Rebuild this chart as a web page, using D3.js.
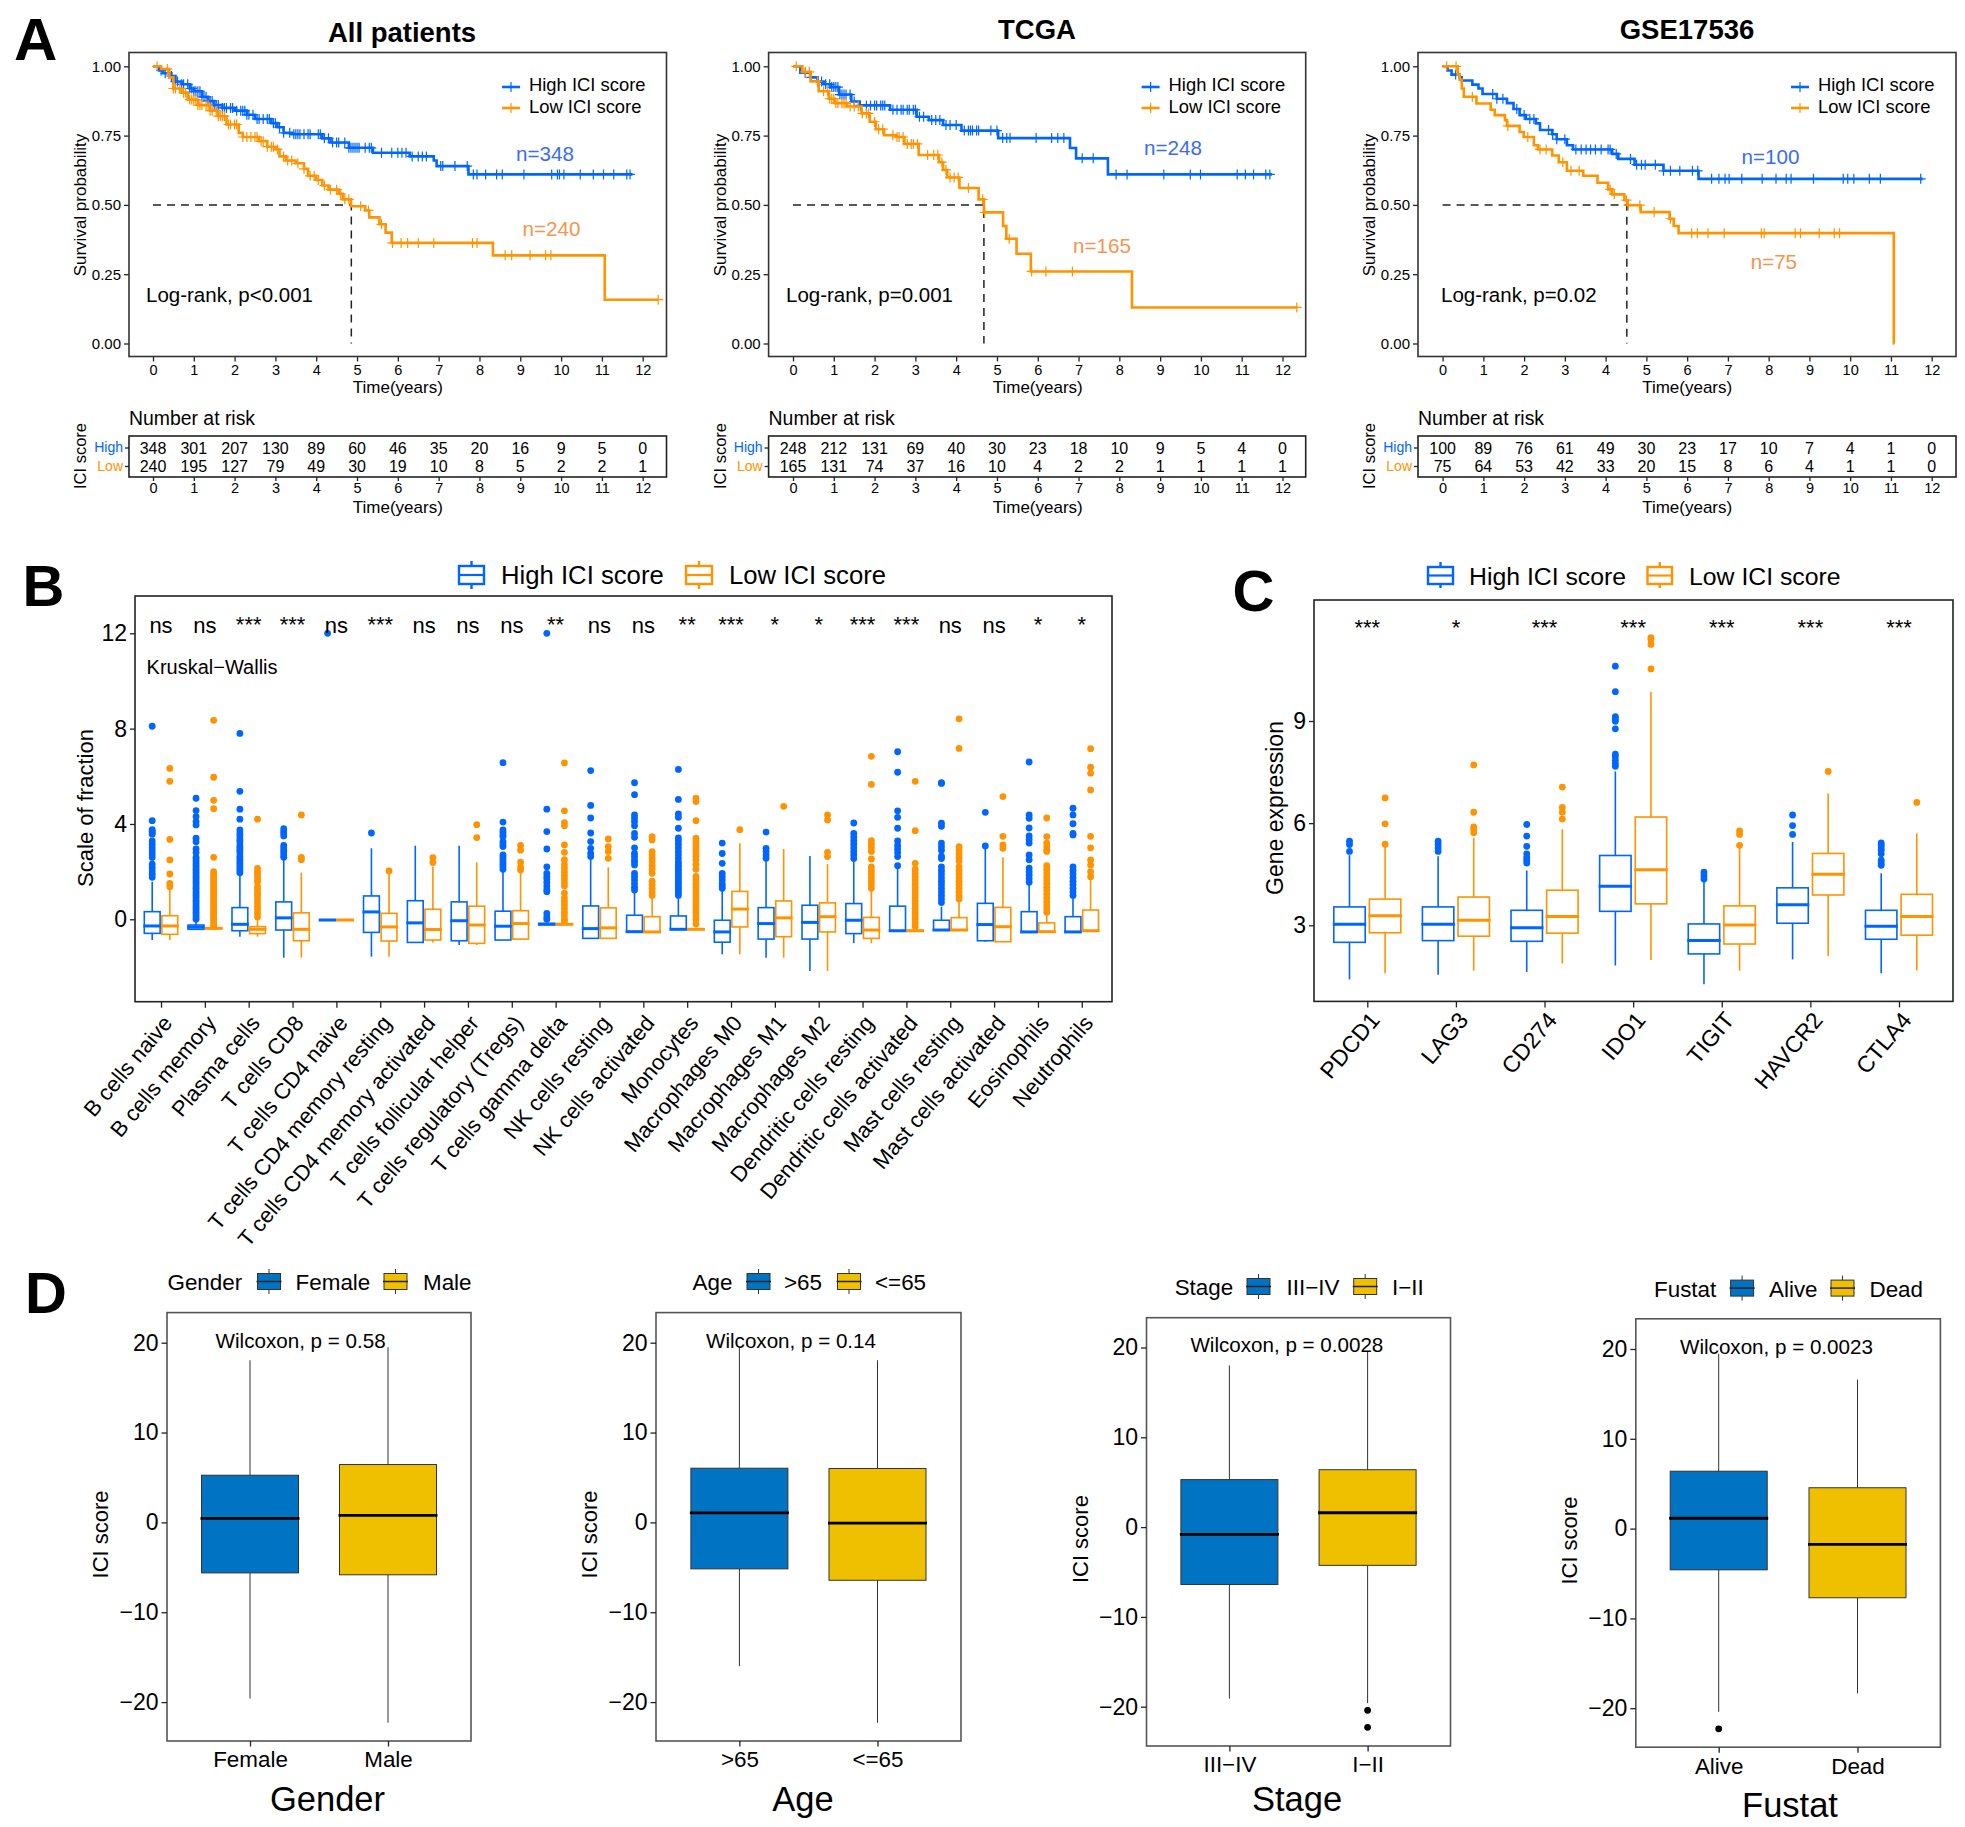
<!DOCTYPE html>
<html>
<head>
<meta charset="utf-8">
<title>ICI score panels</title>
<script src="https://d3js.org/d3.v7.min.js"></script>
<style>
  body { margin: 0; background: #fff; }
  text { font-family: "Liberation Sans", Arial, sans-serif; fill: #000; }
</style>
</head>
<body>
<script>
// ---------- panel A data ----------
var years = [0,1,2,3,4,5,6,7,8,9,10,11,12];

var allHighTime = [0,0.15,0.25,0.45,0.55,0.7,0.9,1.0,1.2,1.35,1.5,1.7,2.0,2.3,2.5,2.9,3.05,3.2,3.4,4.15,4.35,4.8,5.39,6.29,6.88,6.95,7.73,11.75];
var allHighSurv = [1,0.985,0.975,0.965,0.945,0.935,0.92,0.91,0.89,0.875,0.86,0.85,0.84,0.825,0.81,0.795,0.78,0.76,0.755,0.74,0.725,0.706,0.688,0.675,0.66,0.64,0.61,0.61];
var allHighCensor = [0.2,0.3,0.45,0.55,0.6,0.7,0.75,0.85,0.9,0.95,1.0,1.05,1.1,1.15,1.2,1.25,1.3,1.35,1.4,1.45,1.5,1.55,1.6,1.7,1.75,1.8,1.9,1.95,2.05,2.15,2.2,2.25,2.3,2.35,2.45,2.55,2.6,2.7,2.8,2.85,2.95,3.0,3.1,3.2,3.35,3.45,3.5,3.55,3.6,3.7,3.8,3.85,4.05,4.1,4.2,4.3,4.4,4.5,4.55,4.7,4.8,4.85,4.9,4.95,5.0,5.05,5.2,5.3,5.35,5.6,5.85,6.0,6.1,6.2,6.35,6.5,6.6,6.7,7.05,7.1,7.4,7.7,7.85,7.94,8.15,8.42,8.56,9.09,9.77,9.91,9.96,10.07,10.47,10.79,11.04,11.29,11.61,11.69];
var allLowTime = [0,0.2,0.4,0.5,0.7,0.85,1.1,1.4,1.6,1.8,2.1,2.2,2.6,2.8,3.0,3.1,3.25,3.5,3.7,3.8,4.0,4.15,4.3,4.55,4.65,4.85,5.2,5.3,5.55,5.7,5.85,8.33,11.07,12.38];
var allLowSurv = [1,0.99,0.96,0.92,0.905,0.88,0.86,0.84,0.82,0.79,0.76,0.745,0.73,0.71,0.7,0.675,0.66,0.65,0.63,0.605,0.59,0.57,0.555,0.54,0.52,0.495,0.48,0.455,0.43,0.4,0.363,0.318,0.158,0.158];
var allLowCensor = [0.1,0.35,0.5,0.55,0.65,0.75,0.8,0.9,0.95,1.0,1.05,1.1,1.15,1.2,1.3,1.35,1.4,1.45,1.55,1.6,1.65,1.7,1.75,1.85,1.9,2.0,2.05,2.2,2.3,2.4,2.5,2.55,2.65,2.7,2.8,2.9,2.95,3.05,3.2,3.3,3.4,3.55,3.7,3.85,3.95,4.05,4.2,4.35,4.5,4.6,4.7,4.8,5.09,5.28,5.6,5.87,6.08,6.24,6.5,6.88,7.83,7.94,8.63,8.79,9.24,9.62,9.75,12.38];
var allHighRisk = [348,301,207,130,89,60,46,35,20,16,9,5,0];
var allLowRisk = [240,195,127,79,49,30,19,10,8,5,2,2,1];

var tcgaHighTime = [0,0.18,0.43,0.6,0.75,0.93,1.13,1.43,1.63,2.38,3.03,3.33,3.68,4.13,5.03,6.79,6.94,7.72,11.74];
var tcgaHighSurv = [1,0.977,0.96,0.945,0.935,0.925,0.898,0.873,0.859,0.843,0.818,0.806,0.788,0.768,0.741,0.705,0.668,0.61,0.61];
var tcgaHighCensor = [0.3,0.45,0.6,0.7,0.8,0.9,0.95,1.0,1.05,1.1,1.15,1.2,1.25,1.3,1.4,1.5,1.65,1.8,1.9,2.0,2.05,2.15,2.2,2.25,2.45,2.55,2.65,2.7,2.8,2.85,2.95,3.0,3.1,3.2,3.4,3.5,3.6,3.75,3.85,4.0,4.2,4.3,4.35,4.4,4.5,4.55,4.85,5.0,5.14,5.24,5.32,5.96,6.34,6.49,6.64,7.09,7.36,7.92,8.19,9.09,9.74,9.99,10.89,11.09,11.29,11.59,11.69];
var tcgaLowTime = [0,0.23,0.43,0.63,0.88,1.03,1.33,1.68,1.88,2.03,2.23,2.53,2.73,3.08,3.2,3.58,3.68,3.78,4.08,4.55,4.68,5.15,5.23,5.48,5.83,8.31,12.35];
var tcgaLowSurv = [1,0.98,0.946,0.91,0.883,0.867,0.855,0.83,0.8,0.773,0.751,0.745,0.72,0.68,0.68,0.654,0.626,0.599,0.561,0.52,0.473,0.424,0.378,0.324,0.26,0.13,0.13];
var tcgaLowCensor = [0.08,0.3,0.4,0.6,0.75,0.85,0.9,0.95,1.0,1.05,1.1,1.2,1.25,1.3,1.4,1.5,1.6,1.7,1.8,1.85,2.0,2.1,2.2,2.45,2.55,2.6,2.7,2.8,2.9,2.95,3.05,3.3,3.45,3.55,3.65,3.75,3.85,3.95,4.05,4.3,4.65,4.7,5.3,5.85,6.2,6.85,12.35];
var tcgaHighRisk = [248,212,131,69,40,30,23,18,10,9,5,4,0];
var tcgaLowRisk = [165,131,74,37,16,10,4,2,2,1,1,1,1];

var gseHighTime = [0,0.12,0.22,0.42,0.47,0.73,0.88,0.98,1.33,1.58,1.74,1.89,2.04,2.29,2.39,2.69,2.8,3.05,3.2,4.16,4.31,4.71,5.42,6.28,11.78];
var gseHighSurv = [1,0.985,0.97,0.96,0.949,0.934,0.92,0.9,0.883,0.867,0.846,0.824,0.81,0.794,0.77,0.755,0.737,0.715,0.7,0.684,0.666,0.645,0.623,0.594,0.594];
var gseHighCensor = [0.32,1.23,1.33,1.48,1.82,2.0,2.14,2.24,2.6,2.7,2.8,3.0,3.27,3.4,3.52,3.63,3.75,3.89,4.06,4.11,4.26,4.61,4.76,4.88,4.97,5.22,5.42,5.59,5.82,6.13,6.26,6.6,6.78,6.93,7.03,7.34,7.84,8.18,8.43,8.55,9.1,9.83,9.94,10.09,10.47,10.74,11.73];
var gseLowTime = [0,0.37,0.42,0.47,0.52,0.83,1.18,1.28,1.53,1.58,1.89,1.99,2.24,2.34,2.69,2.85,3.05,3.45,3.8,4.06,4.16,4.46,4.54,4.86,5.57,5.67,5.79,11.07,11.08];
var gseLowSurv = [1,0.97,0.952,0.92,0.89,0.866,0.843,0.824,0.806,0.785,0.763,0.745,0.715,0.7,0.678,0.654,0.623,0.605,0.58,0.556,0.538,0.517,0.499,0.474,0.45,0.424,0.398,0,0];
var gseLowCensor = [0.1,0.33,0.73,1.6,2.09,2.39,2.54,2.95,3.15,3.35,4.11,4.21,4.51,4.56,4.84,5.19,5.59,6.11,6.25,6.51,6.91,7.82,7.89,8.65,8.78,9.24,9.61,9.74];
var gseHighRisk = [100,89,76,61,49,30,23,17,10,7,4,1,0];
var gseLowRisk = [75,64,53,42,33,20,15,8,6,4,1,1,0];

// ---------- panel B data ----------
var cellTypes = ["B cells naive","B cells memory","Plasma cells","T cells CD8","T cells CD4 naive","T cells CD4 memory resting","T cells CD4 memory activated","T cells follicular helper","T cells regulatory (Tregs)","T cells gamma delta","NK cells resting","NK cells activated","Monocytes","Macrophages M0","Macrophages M1","Macrophages M2","Dendritic cells resting","Dendritic cells activated","Mast cells resting","Mast cells activated","Eosinophils","Neutrophils"];
var cellSig = ["ns","ns","***","***","ns","***","ns","ns","ns","**","ns","ns","**","***","*","*","***","***","ns","ns","*","*"];

// q1, median, q3, whisker low, whisker high
var cellHighStats = [[-.59,-.28,.32,-.87,1.58],[-.42,-.33,-.24,-.45,0],[-.48,-.21,.49,-.73,1.86],[-.45,.06,.73,-1.61,2.49],[-.03,-.03,-.03,-.03,-.03],[-.55,.31,.98,-1.57,2.98],[-.97,-.15,.78,-.97,3.09],[-.9,-.06,.73,-1.08,3.09],[-.87,-.29,.34,-.87,2.35],[-.22,-.21,-.17,-.22,-.15],[-.8,-.39,.56,-.8,2.5],[-.52,-.52,.17,-.52,1.16],[-.42,-.42,.14,-.42,.88],[-.96,-.53,-.04,-1.47,1.23],[-.83,-.18,.49,-1.61,2.49],[-.83,-.13,.59,-2.17,2.66],[-.6,-.04,.66,-1,2.42],[-.48,-.48,.55,-.48,2.14],[-.45,-.45,-.04,-.45,.53],[-.9,-.22,.67,-.94,2.98],[-.53,-.53,.32,-.53,1.44],[-.53,-.53,.11,-.53,.95]];
var cellLowStats = [[-.63,-.28,.15,-.87,1.23],[-.38,-.38,-.36,-.4,-.3],[-.6,-.42,-.31,-.73,0],[-.9,-.42,.27,-1.61,1.96],[-.03,-.03,-.03,-.03,-.03],[-.91,-.32,.25,-1.57,1.93],[-.87,-.43,.42,-.97,2.2],[-1.01,-.24,.55,-1.08,2.39],[-.83,-.18,.36,-.87,2],[-.21,-.21,-.19,-.22,-.15],[-.8,-.36,.48,-.8,2.18],[-.53,-.53,.11,-.53,.95],[-.42,-.42,-.41,-.42,-.4],[-.32,.43,1.17,-1.47,3.19],[-.73,.06,.77,-1.61,2.95],[-.53,.11,.69,-2.17,2.31],[-.8,-.45,.08,-1,1.3],[-.48,-.48,-.47,-.48,-.45],[-.45,-.45,.07,-.45,.74],[-.94,-.31,.5,-.94,2.6],[-.53,-.52,-.15,-.53,.25],[-.48,-.48,.39,-.48,1.65]];
var cellHighOut = [
  [8.1,4.14,3.76,3.7,3.63,3.57,3.29,3.15,3,2.87,2.73,2.59,2.31,2.17,2.03,1.89,1.76],
  [5.08,4.56,4.31,4.1,3.96,3.4,3.25,2.95,2.8,2.6,2.5,2.4,2.3,2.2,2.1,2,1.9,1.8,1.7,1.6,1.5,1.4,1.3,1.2,1.1,1,.9,.8,.7,.6,.5,.4,.3,.2,.1,0],
  [7.8,5.37,4.62,4.2,3.75,3.6,3.5,3.35,3.25,3.1,3,2.9,2.8,2.65,2.55,2.45,2.35,2.25,2.15,2.05,1.95],
  [3.8,3.7,3.6,3.5,3.1,3,2.9,2.8,2.7,2.6],
  [12],[3.62],[],[],
  [6.57,4.08,3.75,3.65,3.55,3.47,3.26,3.15,3.05,2.7,2.6,2.5,2.4,2.3,2.2,2.1],
  [12,4.62,3.68,2.95,2.2,1.93,1.8,1.7,1.55,1.4,1.25,1.16,.25,.1,0],
  [6.24,4.78,4.25,3.62,3.26,2.98,2.77,2.63],
  [5.73,5.23,4.38,4.24,4.1,3.93,3.6,3.44,3,2.77,2.65,2.5,2.4,2.28,1.93,1.8,1.65,1.5,1.35,1.23],
  [6.29,5.03,4.42,4.28,3.82,3.42,3.3,3.15,3,2.85,2.7,2.55,2.4,2.3,2.2,2.1,2,1.9,1.8,1.7,1.6,1.5,1.4,1.3,1.2,1.1,1],
  [3.2,2.76,2.35,1.93,1.8,1.65,1.5,1.4,1.3],
  [3.66,2.98,2.84,2.7,2.56],
  [],
  [4.04,3.6,3.45,3.3,3.15,3,2.85,2.7,2.55],
  [7.03,6.17,4.55,4.28,3.82,3.29,3.1,2.95,2.8,2.63,2.25],
  [5.73,5.7,4.03,3.9,3.2,3.05,2.9,2.65,2.55,2.2,2.05,1.9,1.75,1.6,1.45,1.3,1.15,1,.85,.7],
  [4.49,3.08],
  [6.6,4.38,4.24,3.83,3.5,3.35,3.2,2.7,2.5,2.15,2,1.85,1.7,1.55],
  [4.66,4.38,4.01,3.6,3.54,2.2,2.05,1.9,1.75,1.6,1.45,1.3,1.15,1]
];
var cellLowOut = [
  [6.33,5.79,3.35,2.49,1.9,1.51,1.37],
  [8.35,5.96,4.99,4.64,2.6,2,1.9,1.8,1.7,1.6,1.5,1.4,1.3,1.2,1.1,1,.9,.8,.7,.6,.5,.4,.3,.2,.1,0,-.1,-.2,-.3],
  [4.2,2.14,2,1.9,1.8,1.65,1.58,1.37,1.25,1.1,1,.85,.7,.55,.4,.25,.1],
  [4.38,2.6,2.5],
  [],[2.03],[2.59,2.38],[3.97,3.43],
  [3.1,2.9,2.4,2.2,2.07],
  [6.56,4.55,4.06,3.92,3.12,2.81,2.5,2.3,2.15,2,1.85,1.7,1.55,1.4,1.1,.9,.75,.6,.45,.3,.15,0,-.1],
  [3.37,3.05,2.84,2.56],
  [3.47,3.33,2.84,2.7,2.55,2.42,2.25,2.1,1.93,1.6,1.45,1.3,1.15,1],
  [5.08,4.94,4.14,3.4,3.25,3.1,2.95,2.8,2.65,2.5,2.3,2.1,1.8,1.65,1.5,1.35,1.2,1.05,.9,.75,.6,.45,.3,.15,0,-.2],
  [3.76],[4.74],
  [4.38,4.17,2.81,2.63],
  [6.84,5.66,3.3,3.15,3,2.85,2.53,2.2,2.05,1.9,1.75,1.6,1.45,1.3],
  [5.79,3.72,2.35,2.1,1.95,1.8,1.65,1.5,1.35,1.2,1.05,.9,.75,.6,.45,.3,.15,0,-.15,-.3],
  [8.41,7.17,3.05,2.9,2.75,2.6,2.45,2.2,2.05,1.9,1.75,1.6,1.45,1.3,1.15,1,.85],
  [5.15,3.48,3.12,2.98],
  [4.25,3.47,3.2,3.05,2.9,2.85,2.25,2.1,1.95,1.8,1.65,1.5,1.35,1.2,1.05,.9,.75,.6,.45,.3],
  [7.16,6.38,6.13,5.43,3.48,3,2.49,2.28,2,1.79]
];

// ---------- panel C data ----------
var genes = ["PDCD1","LAG3","CD274","IDO1","TIGIT","HAVCR2","CTLA4"];
var geneSig = ["***","*","***","***","***","***","***"];
var geneHighStats = [[2.5,3.03,3.54,1.41,5.06],[2.55,3.03,3.54,1.55,5.03],[2.53,2.93,3.44,1.63,4.61],[3.41,4.15,5.05,1.82,7.52],[2.16,2.55,3.04,1.27,4.31],[3.06,3.6,4.1,2,5.45],[2.59,2.97,3.44,1.59,4.53]];
var geneLowStats = [[2.78,3.28,3.77,1.59,5.32],[2.68,3.15,3.83,1.67,5.57],[2.77,3.26,4.03,1.88,5.82],[3.63,4.63,6.18,1.98,9.86],[2.45,3.01,3.57,1.67,5.27],[3.89,4.5,5.11,2.1,6.87],[2.71,3.26,3.91,1.67,5.7]];
var geneHighOut = [[5.47,5.37,5.17],[5.47,5.37,5.27,5.17],[5.96,5.62,5.32,5.1,4.99,4.91,4.83],[10.61,9.86,9.13,9.06,8.99,8.77,8.03,7.95,7.85,7.75,7.67],[4.56,4.46,4.36],[6.24,5.93,5.67],[5.42,5.35,5.27,5.2,5.1,4.91,4.83,4.76]];
var geneLowOut = [[6.74,5.98,5.38],[7.71,6.32,5.89,5.82,5.72],[7.06,6.46,6.32,6.12],[11.45,11.39,11.25,10.53],[5.77,5.67,5.35],[7.52],[6.61]];

// ---------- panel D data ----------
var genderGroups = ["Female","Male"];
var genderStats = [[-5.62,.45,5.25,-19.6,18.05],[-5.83,.78,6.44,-22.3,19.5]];
var genderOut = [[],[]];
var ageGroups = [">65","<=65"];
var ageStats = [[-5.17,1.07,6.03,-16,19.5],[-6.44,-.08,6,-22.3,18.05]];
var ageOut = [[],[]];
var stageGroups = ["III\u2212IV","I\u2212II"];
var stageStats = [[-6.39,-.82,5.29,-19.1,18],[-4.26,1.6,6.39,-19.6,19.5]];
var stageOut = [[],[-20.4,-22.3]];
var fustatGroups = ["Alive","Dead"];
var fustatStats = [[-4.59,1.15,6.39,-20.4,19.47],[-7.7,-1.76,4.55,-18.36,16.6]];
var fustatOut = [[-22.3],[]];

var blue = "#0066ff", orange = "#ff9300";
var jcoBlue = "#0073C2", jcoYellow = "#EFC000";

var svg = d3.select("body").append("svg")
    .attr("width", 1965)
    .attr("height", 1827);

function label(x, y, str, size, opts) {
    opts = opts || {};
    var t = svg.append("text")
        .attr("font-size", size)
        .attr("text-anchor", opts.anchor || "start")
        .text(str);
    if (opts.rotate) {
        t.attr("transform", "translate(" + x + "," + y + ") rotate(" + opts.rotate + ")");
    } else {
        t.attr("x", x).attr("y", y);
    }
    if (opts.weight) t.attr("font-weight", opts.weight);
    if (opts.color) t.style("fill", opts.color);
    return t;
}

function frame(x0, y0, x1, y1, color) {
    svg.append("rect")
        .attr("x", x0).attr("y", y0)
        .attr("width", x1 - x0).attr("height", y1 - y0)
        .attr("fill", "none")
        .attr("stroke", color || "#222")
        .attr("stroke-width", 1.6);
}

// d3 axis with the domain line dropped, the frame is drawn on its own
function drawAxis(axis, tx, ty, size) {
    var g = svg.append("g")
        .attr("transform", "translate(" + tx + "," + ty + ")")
        .call(axis);
    g.select(".domain").remove();
    g.selectAll("line").attr("stroke", "#222").attr("stroke-width", 1.3);
    g.selectAll("text").attr("font-size", size).attr("font-family", null);
    return g;
}

// ---------- survival panels ----------
function stepValue(times, surv, t) {
    var i = d3.bisectRight(times, t) - 1;
    return surv[Math.max(i, 0)];
}

function survivalPanel(p) {
    var top = 52.5, bottom = 356.5;
    var x = d3.scaleLinear().domain([0, 12]).range([p.x0, p.x12]);
    var y = d3.scaleLinear().domain([0, 1]).range([343.5, 66.3]);

    label(p.titleX, p.titleY, p.title, 27.5, {anchor: "middle", weight: "bold"});

    drawAxis(d3.axisBottom(x).tickValues(years).tickFormat(d3.format("d")).tickSize(5).tickPadding(3), 0, bottom, 14.5);
    drawAxis(d3.axisLeft(y).tickValues([0, .25, .5, .75, 1]).tickFormat(d3.format(".2f")).tickSize(5).tickPadding(3), p.left, 0, 15);

    // median guide
    svg.append("path")
        .attr("d", d3.line()([[x(0), y(.5)], [x(p.median), y(.5)], [x(p.median), y(0)]]))
        .attr("fill", "none")
        .attr("stroke", "#222")
        .attr("stroke-width", 1.5)
        .attr("stroke-dasharray", "8,6");

    var line = d3.line()
        .x(function(d) { return x(d[0]); })
        .y(function(d) { return y(d[1]); })
        .curve(d3.curveStepAfter);

    p.curves.forEach(function(c) {
        svg.append("path")
            .attr("d", line(d3.zip(c.time, c.surv)))
            .attr("fill", "none")
            .attr("stroke", c.color)
            .attr("stroke-width", 2.6);
        svg.append("g").selectAll("path")
            .data(c.censor)
            .enter()
            .append("path")
            .attr("d", "M-5,0H5M0,-5V5")
            .attr("transform", function(d) {
                return "translate(" + x(d) + "," + y(stepValue(c.time, c.surv, d)) + ")";
            })
            .attr("stroke", c.color)
            .attr("stroke-width", 1.2);
    });

    frame(p.left, top, p.right, bottom, "#333");

    // legend
    [[87, blue, "High ICI score", 91], [108, orange, "Low ICI score", 113]].forEach(function(k) {
        var kx = p.left + 373;
        svg.append("line").attr("x1", kx).attr("x2", kx + 18).attr("y1", k[0]).attr("y2", k[0])
            .attr("stroke", k[1]).attr("stroke-width", 2.6);
        svg.append("line").attr("x1", kx + 9).attr("x2", kx + 9).attr("y1", k[0] - 5).attr("y2", k[0] + 5)
            .attr("stroke", k[1]).attr("stroke-width", 1.2);
        label(p.left + 400, k[3], k[2], 18.4);
    });

    label(p.nHigh[0], p.nHigh[1], p.nHigh[2], 20.6, {color: "#3a6cf4"});
    label(p.nLow[0], p.nLow[1], p.nLow[2], 20.6, {color: "#f5954f"});
    label(p.logX, 302, p.logText, 20.5);

    label(p.left - 43, 205, "Survival probability", 17, {anchor: "middle", rotate: -90});
    label((p.x0 + p.x12) / 2, 393, "Time(years)", 17, {anchor: "middle"});

    // risk table
    var rTop = 436, rBottom = 477;
    label(p.left, 425, "Number at risk", 19.4);
    frame(p.left, rTop, p.right, rBottom, "#222");
    years.forEach(function(yr, i) {
        label(x(yr), 453.5, p.highRisk[i], 16, {anchor: "middle"});
        label(x(yr), 472, p.lowRisk[i], 16, {anchor: "middle"});
    });
    drawAxis(d3.axisBottom(x).tickValues(years).tickFormat(d3.format("d")).tickSize(4).tickPadding(2), 0, rBottom, 14.5);
    var riskY = d3.scalePoint().domain(["High", "Low"]).range([447.5, 466]);
    var riskAxis = drawAxis(d3.axisLeft(riskY).tickSize(4).tickPadding(2), p.left, 0, 14);
    riskAxis.selectAll("text").style("fill", function(d) { return d == "High" ? blue : orange; });
    label((p.x0 + p.x12) / 2, 513, "Time(years)", 17, {anchor: "middle"});
    label(p.left - 43, 456, "ICI score", 16.5, {anchor: "middle", rotate: -90});
}

survivalPanel({
    title: "All patients", titleX: 402, titleY: 42,
    left: 129, right: 666.5, x0: 153, x12: 642.7, median: 4.86,
    curves: [
        {time: allHighTime, surv: allHighSurv, censor: allHighCensor, color: blue},
        {time: allLowTime, surv: allLowSurv, censor: allLowCensor, color: orange}
    ],
    highRisk: allHighRisk, lowRisk: allLowRisk,
    nHigh: [516, 160.6, "n=348"], nLow: [522.5, 236, "n=240"],
    logX: 146, logText: "Log-rank, p<0.001"
});
survivalPanel({
    title: "TCGA", titleX: 1037, titleY: 39,
    left: 768.6, right: 1305.7, x0: 793, x12: 1282.5, median: 4.68,
    curves: [
        {time: tcgaHighTime, surv: tcgaHighSurv, censor: tcgaHighCensor, color: blue},
        {time: tcgaLowTime, surv: tcgaLowSurv, censor: tcgaLowCensor, color: orange}
    ],
    highRisk: tcgaHighRisk, lowRisk: tcgaLowRisk,
    nHigh: [1144, 155, "n=248"], nLow: [1073, 253, "n=165"],
    logX: 786, logText: "Log-rank, p=0.001"
});
survivalPanel({
    title: "GSE17536", titleX: 1687, titleY: 39,
    left: 1418, right: 1956, x0: 1442.6, x12: 1931.7, median: 4.52,
    curves: [
        {time: gseHighTime, surv: gseHighSurv, censor: gseHighCensor, color: blue},
        {time: gseLowTime, surv: gseLowSurv, censor: gseLowCensor, color: orange}
    ],
    highRisk: gseHighRisk, lowRisk: gseLowRisk,
    nHigh: [1741.6, 164, "n=100"], nLow: [1750.7, 269, "n=75"],
    logX: 1441, logText: "Log-rank, p=0.02"
});

// ---------- one box, whiskers, median and outliers ----------
function drawBox(cx, w, s, out, y, o) {
    var g = svg.append("g");
    g.append("line").attr("x1", cx).attr("x2", cx).attr("y1", y(s[2])).attr("y2", y(s[4]))
        .attr("stroke", o.line).attr("stroke-width", o.lw);
    g.append("line").attr("x1", cx).attr("x2", cx).attr("y1", y(s[0])).attr("y2", y(s[3]))
        .attr("stroke", o.line).attr("stroke-width", o.lw);
    g.append("rect")
        .attr("x", cx - w / 2).attr("width", w)
        .attr("y", y(s[2])).attr("height", y(s[0]) - y(s[2]))
        .attr("fill", o.fill).attr("stroke", o.edge).attr("stroke-width", o.boxLw);
    g.append("line").attr("x1", cx - w / 2 - 1).attr("x2", cx + w / 2 + 1).attr("y1", y(s[1])).attr("y2", y(s[1]))
        .attr("stroke", o.median).attr("stroke-width", o.medLw);
    g.selectAll("circle")
        .data(out)
        .enter()
        .append("circle")
        .attr("cx", cx)
        .attr("cy", function(d) { return y(d); })
        .attr("r", o.r)
        .attr("fill", o.dot);
}

function outlineStyle(color, r) {
    return {line: color, edge: color, fill: "none", median: color, dot: color, lw: 1.6, boxLw: 1.6, medLw: 3, r: r};
}

function legendKey(x0, x1, yTop, yBottom, wTop, wBottom, o) {
    var mid = (x0 + x1) / 2;
    drawBox(mid, x1 - x0, [0, .5, 1, 0, 1], [],
        function(v) { return v == 0 ? yBottom : (v == 1 ? yTop : (yTop + yBottom) / 2); }, o);
    svg.append("line").attr("x1", mid).attr("x2", mid).attr("y1", wTop).attr("y2", yTop)
        .attr("stroke", o.edge).attr("stroke-width", o.lw);
    svg.append("line").attr("x1", mid).attr("x2", mid).attr("y1", yBottom).attr("y2", wBottom)
        .attr("stroke", o.edge).attr("stroke-width", o.lw);
}

// ---------- panel B ----------
(function() {
    var left = 135, right = 1112, top = 596, bottom = 1001.7;
    var x = d3.scalePoint().domain(cellTypes).range([161, 1081.8]);
    var y = d3.scaleLinear().domain([0, 12]).range([919.3, 633.3]);
    var hi = outlineStyle(blue, 3.4), lo = outlineStyle(orange, 3.4);

    cellTypes.forEach(function(c, i) {
        drawBox(x(c) - 8.8, 15.8, cellHighStats[i], cellHighOut[i], y, hi);
        drawBox(x(c) + 8.8, 15.8, cellLowStats[i], cellLowOut[i], y, lo);
        label(x(c), cellSig[i] == "ns" ? 633 : 632, cellSig[i], 22, {anchor: "middle"});
    });

    frame(left, top, right, bottom);
    drawAxis(d3.axisLeft(y).tickValues([0, 4, 8, 12]).tickSize(5).tickPadding(3), left, 0, 23);
    var ax = drawAxis(d3.axisBottom(x).tickSize(6), 0, bottom, 22);
    ax.selectAll("text")
        .attr("text-anchor", "end")
        .attr("transform", "translate(6,17) rotate(-50)")
        .attr("x", 0).attr("y", 0).attr("dy", "0.35em");

    label(93, 808, "Scale of fraction", 22, {anchor: "middle", rotate: -90});
    label(146.6, 674, "Kruskal\u2212Wallis", 20);

    var blueKey = {line: blue, edge: blue, fill: "none", median: blue, lw: 2.4, boxLw: 2.4, medLw: 2.2, r: 0, dot: blue};
    var orangeKey = {line: orange, edge: orange, fill: "none", median: orange, lw: 2.4, boxLw: 2.4, medLw: 2.2, r: 0, dot: orange};
    legendKey(459, 484, 566, 584, 561, 589, blueKey);
    label(501, 584, "High ICI score", 25.7);
    legendKey(686, 712, 566, 584, 561, 589, orangeKey);
    label(729, 584, "Low ICI score", 25.7);
    label(22.5, 606, "B", 58, {weight: "bold"});
})();

// ---------- panel C ----------
(function() {
    var left = 1314, right = 1953, top = 600, bottom = 1001.4;
    var x = d3.scalePoint().domain(genes).range([1367.3, 1899]);
    var y = d3.scaleLinear().domain([3, 9]).range([925.3, 721]);
    var hi = outlineStyle(blue, 3.4), lo = outlineStyle(orange, 3.4);

    genes.forEach(function(g, i) {
        drawBox(x(g) - 17.8, 31.4, geneHighStats[i], geneHighOut[i], y, hi);
        drawBox(x(g) + 17.8, 31.4, geneLowStats[i], geneLowOut[i], y, lo);
        label(x(g), 635, geneSig[i], 22, {anchor: "middle"});
    });

    frame(left, top, right, bottom);
    drawAxis(d3.axisLeft(y).tickValues([3, 6, 9]).tickFormat(d3.format("d")).tickSize(5).tickPadding(3), left, 0, 23);
    var ax = drawAxis(d3.axisBottom(x).tickSize(6), 0, bottom, 23);
    ax.selectAll("text")
        .attr("text-anchor", "end")
        .attr("transform", "translate(7,14) rotate(-50)")
        .attr("x", 0).attr("y", 0).attr("dy", "0.35em");

    label(1283, 808, "Gene expression", 23, {anchor: "middle", rotate: -90});

    var blueKey = {line: blue, edge: blue, fill: "none", median: blue, lw: 2.4, boxLw: 2.4, medLw: 2.2, r: 0, dot: blue};
    var orangeKey = {line: orange, edge: orange, fill: "none", median: orange, lw: 2.4, boxLw: 2.4, medLw: 2.2, r: 0, dot: orange};
    legendKey(1428, 1453, 567, 584, 562, 588, blueKey);
    label(1469, 585, "High ICI score", 24.8);
    legendKey(1647.5, 1672, 567, 584, 562, 588, orangeKey);
    label(1689, 585, "Low ICI score", 24.8);
    label(1232.5, 611, "C", 58, {weight: "bold"});
})();

// ---------- remaining panel letters ----------
label(14, 60, "A", 60, {weight: "bold"});
label(25, 1313, "D", 58, {weight: "bold"});

// ---------- panel D ----------
function scorePanel(p) {
    var x = d3.scalePoint().domain(p.groups).range([p.c0, p.c1]);
    var y = d3.scaleLinear().domain([0, 20]).range([p.y0, p.y20]);
    var colors = [jcoBlue, jcoYellow];
    p.groups.forEach(function(g, i) {
        drawBox(x(g), 97, p.stats[i], p.out[i], y, {
            line: "#333", edge: "#333", fill: colors[i], median: "#000", dot: "#000",
            lw: 1, boxLw: 1, medLw: 2.8, r: 3.4
        });
    });
    frame(p.left, p.top, p.right, p.bottom, "#555");
    drawAxis(d3.axisLeft(y).tickValues([-20, -10, 0, 10, 20]).tickFormat(function(d) { return String(d).replace("-", "\u2212"); }).tickSize(5.5).tickPadding(3), p.left, 0, 23);
    drawAxis(d3.axisBottom(x).tickSize(5.5).tickPadding(5), 0, p.bottom, 22.4);

    label(p.left - 59, p.y0 + 12, "ICI score", 22, {anchor: "middle", rotate: -90});
    label(p.wilcoxX, p.wilcoxY, p.wilcox, 20.6);
    label(p.nameX, p.nameY, p.name, 34.5, {anchor: "middle"});

    // legend row
    label(p.leg.titleX, p.leg.base, p.name, 22.4);
    [0, 1].forEach(function(i) {
        var kx = p.leg.keys[i], ky = p.leg.mid;
        legendKey(kx, kx + 23, ky - 8.5, ky + 7.5, ky - 13, ky + 12, {
            line: "#333", edge: "#333", fill: colors[i], median: "#222", dot: "#000",
            lw: 1, boxLw: 1, medLw: 1.5, r: 0
        });
        label(p.leg.texts[i], p.leg.base, p.groups[i], 22.4);
    });
}

scorePanel({
    name: "Gender", groups: genderGroups, stats: genderStats, out: genderOut,
    left: 167, right: 471, top: 1312.6, bottom: 1741, c0: 250, c1: 388, y0: 1522.4, y20: 1342.7,
    wilcox: "Wilcoxon, p = 0.58", wilcoxX: 215.6, wilcoxY: 1347.5, nameX: 327.5, nameY: 1811,
    leg: {titleX: 167.5, base: 1290, mid: 1282, keys: [257.5, 384], texts: [295.6, 423]}
});
scorePanel({
    name: "Age", groups: ageGroups, stats: ageStats, out: ageOut,
    left: 656, right: 961, top: 1312.6, bottom: 1741, c0: 739.4, c1: 877.5, y0: 1522.4, y20: 1342.7,
    wilcox: "Wilcoxon, p = 0.14", wilcoxX: 706, wilcoxY: 1347.5, nameX: 803, nameY: 1811,
    leg: {titleX: 692.5, base: 1290, mid: 1282, keys: [747, 837.5], texts: [784, 875]}
});
scorePanel({
    name: "Stage", groups: stageGroups, stats: stageStats, out: stageOut,
    left: 1146.5, right: 1450.5, top: 1317.7, bottom: 1746, c0: 1229.4, c1: 1367.6, y0: 1527.1, y20: 1347.5,
    wilcox: "Wilcoxon, p = 0.0028", wilcoxX: 1190.4, wilcoxY: 1352, nameX: 1297, nameY: 1811,
    leg: {titleX: 1174.7, base: 1295, mid: 1287, keys: [1247, 1353.7], texts: [1286.5, 1392]}
});
scorePanel({
    name: "Fustat", groups: fustatGroups, stats: fustatStats, out: fustatOut,
    left: 1635.8, right: 1940.4, top: 1318.8, bottom: 1747.2, c0: 1718.7, c1: 1857.5, y0: 1528.6, y20: 1349,
    wilcox: "Wilcoxon, p = 0.0023", wilcoxX: 1680, wilcoxY: 1353.8, nameX: 1790, nameY: 1817,
    leg: {titleX: 1654, base: 1296.7, mid: 1288.6, keys: [1730.6, 1831], texts: [1769, 1869.5]}
});
</script>
</body>
</html>
